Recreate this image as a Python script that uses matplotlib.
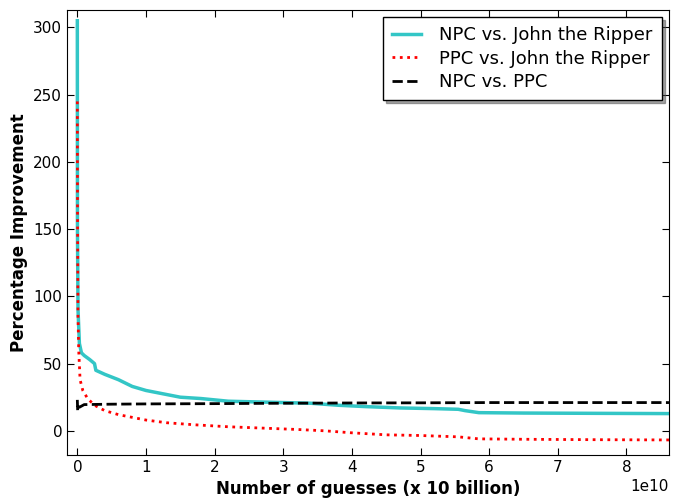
import numpy as np
import matplotlib
matplotlib.use('Agg')
from matplotlib import pyplot as plt

# guesses in units of 1e10
npc_x = [0, 0.002, 0.01, 0.03, 0.06, 0.1, 0.18, 0.25, 0.27, 0.4, 0.6, 0.8, 1.0, 1.2, 1.5,
         1.8, 2.2, 2.6, 3.0, 3.4, 3.8, 4.2, 4.7, 5.2, 5.55, 5.65, 5.85, 6.5, 7.5, 8.62]
npc_y = [305, 150, 90, 65, 58, 56, 53, 50, 45, 42, 38, 33, 30, 28, 25,
         24, 22, 21.5, 21, 20.5, 19, 18, 17, 16.5, 16, 15, 13.5, 13.2, 13, 12.8]

ppc_x = [0, 0.003, 0.01, 0.02, 0.04, 0.08, 0.15, 0.25, 0.4, 0.6, 0.8, 1.0, 1.3, 1.7, 2.2,
         2.7, 3.2, 3.6, 4.0, 4.5, 5.0, 5.55, 5.85, 6.5, 7.5, 8.62]
ppc_y = [245, 160, 85, 60, 38, 30, 24, 19, 15, 12, 10, 8, 6, 4.5, 3,
         2, 1, 0, -1.5, -3, -3.5, -4.5, -6, -6.3, -6.6, -6.8]

diff_x = [0, 0.005, 0.01, 0.03, 0.1, 0.5, 1, 2, 3, 4, 5, 6, 7, 8.62]
diff_y = [23, 15, 18, 17.5, 19.5, 19.8, 20, 20.2, 20.5, 20.7, 20.8, 21, 21, 21]

labels = ['NPC vs. John the Ripper', 'PPC vs. John the Ripper', 'NPC vs. PPC']

fig = plt.figure(figsize=(6.73, 5.0), dpi=100)
ax = fig.add_axes([0.0996, 0.09, 0.8944, 0.89])

ax.plot(np.array(npc_x) * 1e10, npc_y, color='#33c6c6', lw=2.5, label=labels[0])
ax.plot(np.array(ppc_x) * 1e10, ppc_y, 'r:', lw=2, label=labels[1])
ax.plot(np.array(diff_x) * 1e10, diff_y, 'k--', lw=2, label=labels[2])

ax.set_xlim(-0.15e10, 8.62e10)
ax.set_ylim(-18, 313)
ax.set_yticks([0, 50, 100, 150, 200, 250, 300])
ax.tick_params(direction='in', top=True, right=True, labelsize=11, length=5)
ax.xaxis.get_offset_text().set_fontsize(11)

ax.set_xlabel('Number of guesses (x 10 billion)', fontsize=12, fontweight='bold')
ax.set_ylabel('Percentage Improvement', fontsize=12, fontweight='bold')

leg = ax.legend(loc='upper right', fontsize=13, shadow=True, fancybox=False,
                framealpha=1, edgecolor='black', borderaxespad=0.4,
                handlelength=1.6, handletextpad=1.0, labelspacing=0.3, borderpad=0.5)
leg.get_frame().set_linewidth(1)

fig.savefig('out.png', dpi=100)
